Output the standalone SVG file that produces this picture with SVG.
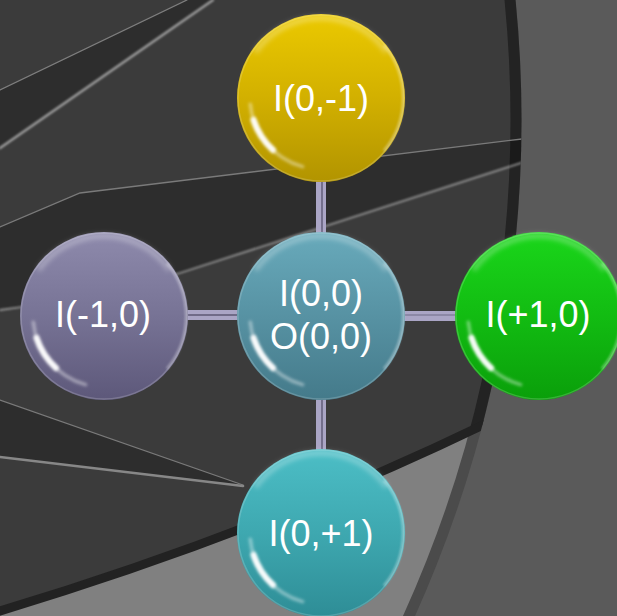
<svg xmlns="http://www.w3.org/2000/svg" xmlns:xlink="http://www.w3.org/1999/xlink" width="617" height="616" viewBox="0 0 617 616">
  <style>
    .streak { fill: none; stroke-linecap: round; }
    .label { font-family: "Liberation Sans", Arial, sans-serif; font-size: 36px; fill: #ffffff; text-anchor: middle; }
    .bar { stroke: #aaa5c5; stroke-width: 10; }
    .bar-gap { stroke: #5c5873; stroke-width: 1.4; }
  </style>
  <defs>
    <!-- outer edge of the big dark plate (includes its rim band) -->
    <clipPath id="plateOuter">
      <circle cx="-687" cy="120" r="1208.5"/>
    </clipPath>
    <clipPath id="plateInner">
      <circle cx="-687" cy="120" r="1197.5"/>
    </clipPath>
    <filter id="soft" x="-20%" y="-20%" width="140%" height="140%">
      <feGaussianBlur stdDeviation="0.8"/>
    </filter>
    <filter id="glow" x="-30%" y="-30%" width="160%" height="160%">
      <feGaussianBlur stdDeviation="1.6"/>
    </filter>
    <filter id="haze" x="-30%" y="-30%" width="160%" height="160%">
      <feGaussianBlur stdDeviation="2.5"/>
    </filter>

    <!-- sphere body shades -->
    <linearGradient id="gYellow" x1="0" y1="0" x2="0" y2="1">
      <stop offset="0" stop-color="#ebc900"/>
      <stop offset="0.5" stop-color="#d2b000"/>
      <stop offset="1" stop-color="#b29400"/>
    </linearGradient>
    <linearGradient id="gCenter" x1="0" y1="0" x2="0" y2="1">
      <stop offset="0" stop-color="#68aabb"/>
      <stop offset="0.5" stop-color="#5792a3"/>
      <stop offset="1" stop-color="#447a8a"/>
    </linearGradient>
    <linearGradient id="gLavender" x1="0" y1="0" x2="0" y2="1">
      <stop offset="0" stop-color="#8e8aac"/>
      <stop offset="0.5" stop-color="#777395"/>
      <stop offset="1" stop-color="#5d587a"/>
    </linearGradient>
    <linearGradient id="gGreen" x1="0" y1="0" x2="0" y2="1">
      <stop offset="0" stop-color="#1ad61a"/>
      <stop offset="0.5" stop-color="#12bc12"/>
      <stop offset="1" stop-color="#0a9f0a"/>
    </linearGradient>
    <linearGradient id="gTeal" x1="0" y1="0" x2="0" y2="1">
      <stop offset="0" stop-color="#4cbec6"/>
      <stop offset="0.5" stop-color="#3ea8b0"/>
      <stop offset="1" stop-color="#2e8d96"/>
    </linearGradient>

    <!-- glossy rim highlights shared by every sphere, centred on 0,0 -->
    <g id="gloss">
      <circle r="83" fill="none" stroke="#ffffff" stroke-opacity="0.18" stroke-width="1.5"/>
      <path d="M -65.5 -45.9 A 80 80 0 0 1 65.5 -45.9" fill="none" stroke="#ffffff" stroke-opacity="0.3" stroke-width="5" filter="url(#haze)"/>
      <path d="M 62.8 -52.7 A 82 82 0 0 1 62.8 52.7" fill="none" stroke="#ffffff" stroke-opacity="0.4" stroke-width="2" filter="url(#soft)"/>
      <path d="M -18.4 68.6 A 72 72 0 0 1 -70.7 6.2" fill="none" stroke="#ffffff" stroke-opacity="0.4" stroke-width="3.5" stroke-linecap="round" filter="url(#glow)"/>
      <path d="M -48 52 A 71 71 0 0 1 -67.5 21.9" fill="none" stroke="#ffffff" stroke-opacity="0.95" stroke-width="6" stroke-linecap="round" filter="url(#glow)"/>
    </g>
  </defs>

  <!-- backdrop -->
  <rect width="617" height="616" fill="#5a5a5a"/>
  <circle cx="-687" cy="120" r="1203" fill="#808080" stroke="#4b4b4b" stroke-width="11"/>

  <!-- dark plate above the lower curve -->
  <path d="M -10 611 Q 258.5 533.5 483 425 L 660 340 L 660 -10 L -10 -10 Z" fill="#232323" clip-path="url(#plateOuter)"/>
  <path d="M -10 611 Q 258.5 533.5 483 425 L 660 340 L 660 -10 L -10 -10 Z" fill="#3b3b3b" clip-path="url(#plateInner)"/>

  <!-- shadow wedges on the plate -->
  <g clip-path="url(#plateOuter)" fill="#000000" fill-opacity="0.23">
    <path d="M 0 90 L 187 0 L 213 0 L 0 148 Z"/>
    <path d="M 0 227 L 80 193 L 530 138 L 530 160 L 180 273 Q 80 300 0 310 Z"/>
    <path d="M 0 400 L 243 485 L 0 457 Z"/>
  </g>

  <!-- lower curved rim -->
  <path d="M -10 614 Q 258.5 533.5 483 425 L 530 402" fill="none" stroke="#222222" stroke-width="9" clip-path="url(#plateOuter)"/>

  <!-- light streaks -->
  <g clip-path="url(#plateOuter)" class="streak">
    <line x1="0" y1="90" x2="187" y2="0" stroke="#7e7e7e" stroke-width="1.3"/>
    <line x1="0" y1="148" x2="213" y2="0" stroke="#a0a0a0" stroke-width="2.2" filter="url(#soft)"/>
    <polyline points="0,227 80,193 530,138" stroke="#7a7a7a" stroke-width="1.3"/>
    <path d="M 0 310 Q 80 300 180 273 L 530 160" stroke="#929292" stroke-width="1.8" filter="url(#soft)"/>
    <line x1="0" y1="400" x2="243" y2="485" stroke="#7a7a7a" stroke-width="1.3"/>
    <line x1="0" y1="457" x2="243" y2="486" stroke="#878787" stroke-width="2.6"/>
  </g>

  <!-- connectors -->
  <g id="connectors">
    <line class="bar" x1="321" y1="180" x2="321" y2="234"/>
    <line class="bar-gap" x1="322" y1="180" x2="322" y2="234"/>
    <line class="bar" x1="186" y1="315" x2="240" y2="315"/>
    <line class="bar-gap" x1="186" y1="315" x2="240" y2="315"/>
    <line class="bar" x1="403" y1="316" x2="457" y2="316"/>
    <line class="bar-gap" x1="403" y1="315" x2="457" y2="315" stroke-opacity="0.5"/>
    <line class="bar" x1="321" y1="398" x2="321" y2="452"/>
    <line class="bar-gap" x1="322" y1="398" x2="322" y2="452"/>
  </g>

  <!-- nodes -->
  <g id="node-top">
    <circle cx="321" cy="98" r="84" fill="url(#gYellow)"/>
    <use xlink:href="#gloss" href="#gloss" x="321" y="98"/>
    <text class="label" x="321" y="111">I(0,-1)</text>
  </g>
  <g id="node-left">
    <circle cx="104" cy="316" r="84" fill="url(#gLavender)"/>
    <use xlink:href="#gloss" href="#gloss" x="104" y="316"/>
    <text class="label" x="103" y="327">I(-1,0)</text>
  </g>
  <g id="node-center">
    <circle cx="321" cy="316" r="84" fill="url(#gCenter)"/>
    <use xlink:href="#gloss" href="#gloss" x="321" y="316"/>
    <text class="label" x="321" y="306">I(0,0)</text>
    <text class="label" x="321" y="349">O(0,0)</text>
  </g>
  <g id="node-right">
    <circle cx="539" cy="316" r="84" fill="url(#gGreen)"/>
    <use xlink:href="#gloss" href="#gloss" x="539" y="316"/>
    <text class="label" x="538" y="327">I(+1,0)</text>
  </g>
  <g id="node-bottom">
    <circle cx="321" cy="533" r="84" fill="url(#gTeal)"/>
    <use xlink:href="#gloss" href="#gloss" x="321" y="533"/>
    <text class="label" x="321" y="546">I(0,+1)</text>
  </g>
</svg>
